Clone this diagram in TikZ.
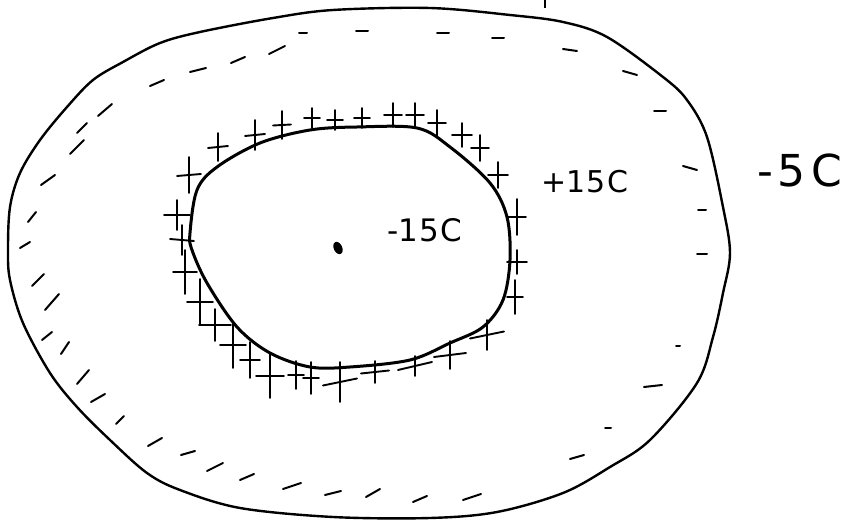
\documentclass[tikz,border=0pt]{standalone}
\usepackage{fontspec}
\setmainfont{DejaVu Sans}
\begin{document}
\begin{tikzpicture}[x=1pt,y=-1pt,
  outerline/.style={line width=2.4pt,line join=round},
  innerline/.style={line width=3pt,line join=round},
  pluscharge/.style={line width=1.9pt,line cap=round},
  minuscharge/.style={line width=2pt,line cap=round},
  handlabel/.style={inner sep=0pt}]
\useasboundingbox (0,0) rectangle (855,521);
% outer conductor surface
\draw[outerline] plot[smooth cycle,tension=0.55] coordinates {
 (430,8) (510,15) (563,22) (607,37) (663,77) (687,100) (707,137) (723,207)
 (730,253) (723,293) (713,337) (697,383) (650,440) (610,467) (563,493)
 (497,512) (430,518) (333,517) (240,508) (180,490) (147,473) (110,440)
 (77,407) (50,373) (23,323) (10,280) (8,250) (10,207) (20,173) (40,140)
 (67,107) (93,80) (123,62) (160,43) (200,32) (273,18) (333,10)};
\draw[line width=1.8pt] (545,0) -- (545,8);
% inner cavity surface
\draw[innerline] plot[smooth cycle,tension=0.55] coordinates {
 (190,233) (197,190) (217,167) (260,143) (310,130) (357,127) (417,128)
 (450,147) (490,183) (507,217) (510,260) (503,300) (483,327) (450,343)
 (410,360) (350,367) (310,367) (270,353) (237,327) (207,283) (192,250)};
% induced positive charges: x/y/half height/half width/slant
\foreach \x/\y/\v/\h/\s in {189/175/18/12/-2,218/147/14/10/-2,255/135/15/10/-2,
 282/125/14/9/-1,312/118/10/8/0,335/120/10/8/0,362/118/10/8/0,393/115/12/9/0,
 415/115/12/9/0,437/123/13/9/0,462/135/12/10/0,480/148/13/9/0,498/175/13/10/0,
 517/217/18/9/0,517/262/12/10/0,515/297/17/8/0,487/335/15/17/-7,450/355/14/16/-4,
 415/366/10/17/-8,375/372/11/14/-3,340/382/20/17/-7,296/375/14/8/0,311/378/16/8/0,
 270/376/22/14/0,250/360/18/10/0,233/345/23/13/0,215/325/16/16/0,200/302/23/13/0,
 185/272/22/12/0,177/215/15/13/0,182/240/15/12/2}
  \draw[pluscharge] (\x,\y) ++(-\h,{-\s/2}) -- ++({2*\h},\s)
                    (\x,\y) ++(0,-\v) -- ++(0,{2*\v});
% negative charges on the outer surface: centre and half vector
\foreach \x/\y/\dx/\dy in {362/31/6/0,303/33/4/0,277/50/8/-4,238/60/7/-3,
 198/70/8/-2,157/83/7/-3,105/110/7/-6,82/128/5/-5,77/147/7/-7,48/180/7/-5,
 32/217/4/-5,25/245/5/-3,38/280/6/-6,52/302/7/-8,47/336/5/-4,65/348/4/-6,
 83/377/6/-7,98/398/7/-4,120/420/4/-4,155/442/7/-4,188/453/7/-2,215/467/8/-4,
 247/477/7/-3,292/486/9/-3,333/493/8/-2,373/493/7/-4,420/499/7/-3,472/497/9/-3,
 443/33/6/0,498/38/6/0,570/50/7/1,630/73/7/2,660/111/6/0,690/168/7/2,
 702/210/4/0,702/254/5/0,678/346/2/0,653/386/9/-1,608/428/3/0,577/457/7/-2}
  \draw[minuscharge] (\x,\y) ++({-\dx},{-\dy}) -- ++({2*\dx},{2*\dy});
% point charge
\fill[rotate around={-65:(338,248)}] (338,248) ellipse [x radius=6.5, y radius=4.2];
\node[handlabel,font=\fontsize{31}{31}\selectfont] (qin) at (425,230) {-1\kern1pt5\kern2ptC};
\node[handlabel,font=\fontsize{30}{30}\selectfont] (qinner) at (585,182) {+1\kern1pt5\kern2ptC};
\node[handlabel,font=\fontsize{44}{44}\selectfont] (qouter) at (800,170) {-\kern4pt5\kern6ptC};
\end{tikzpicture}
\end{document}
